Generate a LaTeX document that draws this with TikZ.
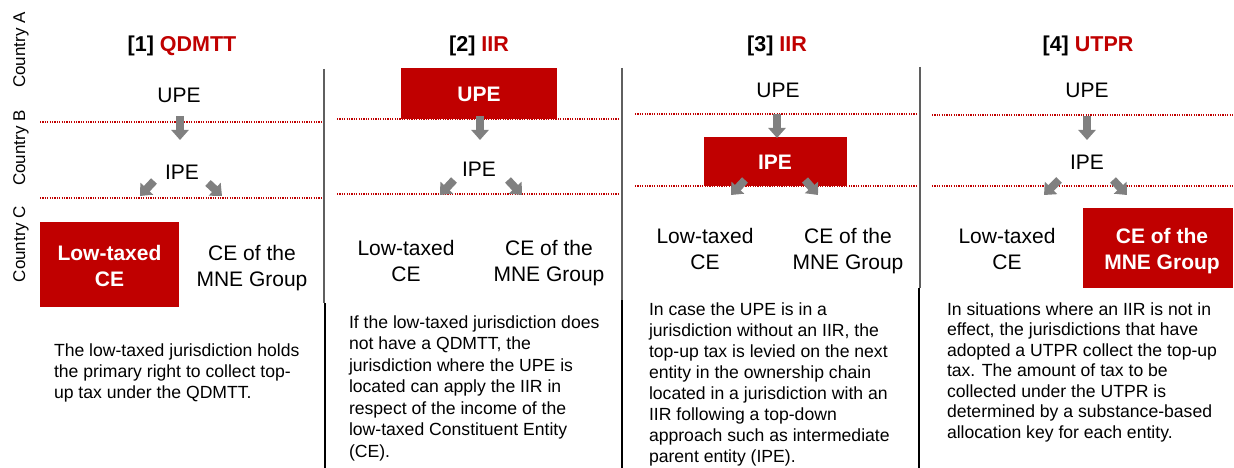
\documentclass[tikz,border=0pt]{standalone}
\usepackage{fontspec}
\setmainfont{Liberation Sans}
\usetikzlibrary{arrows.meta}
\definecolor{ipred}{HTML}{C00000}
\definecolor{agray}{HTML}{808080}
\definecolor{sgray}{HTML}{5F5F5F}
\newcommand\lblstrut{\rule[-10pt]{0pt}{26pt}}
\newcommand\txtstrut{\rule{0pt}{15pt}}
\begin{document}
\begin{tikzpicture}[x=1pt,y=-1pt,
  every node/.style={inner sep=0pt, outer sep=0pt},
  title/.style={anchor=base, font=\fontsize{21.5}{26}\selectfont\bfseries},
  country/.style={anchor=base, rotate=90, font=\fontsize{17}{20}\selectfont},
  ent/.style={anchor=base, font=\fontsize{21}{26}\selectfont},
  entw/.style={anchor=base, font=\fontsize{21}{26}\selectfont\bfseries, text=white},
  enttwo/.style={align=center, font=\fontsize{21}{26}\selectfont},
  enttwow/.style={align=center, font=\fontsize{21}{26}\selectfont\bfseries, text=white},
  redbox/.style={fill=ipred, draw=none},
  body/.style={anchor=north west, align=left},
  barrow/.style={draw=agray, line width=8pt, -{Triangle[width=17pt,length=10pt]}},
  sepg/.style={draw=sgray, line width=2.5pt},
  sepb/.style={draw=black, line width=1.5pt},
  dotline/.style={draw=ipred, line width=1.2pt, dash pattern=on 1.2pt off 1.2pt},
]
\useasboundingbox (0,0) rectangle (1234,468);

% country labels
\node[country] (ca) at (25,50) {Country A};
\node[country] (cb) at (25,148) {Country B};
\node[country] (cc) at (25,244) {Country C};

% separators
\draw[sepg] (324,69) -- (324,303);
\draw[sepb] (325,303) -- (325,468);
\draw[sepg] (622,68) -- (622,300);
\draw[sepb] (622,300) -- (622,468);
\draw[sepg] (920,67) -- (920,288);
\draw[sepb] (919,288) -- (919,468);

% dotted country borders
\draw[dotline] (40,122) -- (323,122);
\draw[dotline] (40,198) -- (323,198);
\draw[dotline] (337,119) -- (618,119);
\draw[dotline] (337,194) -- (618,194);
\draw[dotline] (635,114) -- (918,114);
\draw[dotline] (635,186) -- (918,186);
\draw[dotline] (932,115) -- (1234,115);
\draw[dotline] (932,186) -- (1234,186);

% titles
\node[title] (t1) at (182,52) {[1] \textcolor{ipred}{QDMTT}};
\node[title] (t2) at (479,52) {[2] \textcolor{ipred}{IIR}};
\node[title] (t3) at (777,52) {[3] \textcolor{ipred}{IIR}};
\node[title] (t4) at (1088,52) {[4] \textcolor{ipred}{UTPR}};

% red boxes
\node[redbox, minimum width=139pt, minimum height=85pt] (b1) at (109.5,264.5) {};
\node[redbox, minimum width=156pt, minimum height=51pt] (b2) at (479,93.5) {};
\node[redbox, minimum width=143pt, minimum height=49pt] (b3) at (775.5,161.5) {};
\node[redbox, minimum width=150pt, minimum height=80pt] (b4) at (1158,248) {};

% panel 1
\node[ent] (upe1) at (179,103) {UPE};
\node[ent] (ipe1) at (182,179) {IPE};
\node[enttwow] (lt1) at (109.5,270) {\lblstrut Low-taxed\\\lblstrut CE};
\node[enttwo] (ce1) at (252,270) {\lblstrut CE of the\\\lblstrut MNE Group};

% panel 2
\node[entw] (upe2) at (479,102) {UPE};
\node[ent] (ipe2) at (479,176) {IPE};
\node[enttwo] (lt2) at (406,265) {\lblstrut Low-taxed\\\lblstrut CE};
\node[enttwo] (ce2) at (549,265) {\lblstrut CE of the\\\lblstrut MNE Group};

% panel 3
\node[ent] (upe3) at (778,98) {UPE};
\node[entw] (ipe3) at (775,169) {IPE};
\node[enttwo] (lt3) at (705,253) {\lblstrut Low-taxed\\\lblstrut CE};
\node[enttwo] (ce3) at (848,253) {\lblstrut CE of the\\\lblstrut MNE Group};

% panel 4
\node[ent] (upe4) at (1087,98) {UPE};
\node[ent] (ipe4) at (1087,169) {IPE};
\node[enttwo] (lt4) at (1007,253) {\lblstrut Low-taxed\\\lblstrut CE};
\node[enttwow] (ce4) at (1162,253) {\lblstrut CE of the\\\lblstrut MNE Group};

% arrow end points
\coordinate (d1s) at (180,116);   \coordinate (d1e) at (180,140);
\coordinate (l1s) at (154,181);   \coordinate (l1e) at (140,196);
\coordinate (r1s) at (208,183);   \coordinate (r1e) at (222,196);
\coordinate (d2s) at (480,116);   \coordinate (d2e) at (480,140);
\coordinate (l2s) at (454,180);   \coordinate (l2e) at (440,195);
\coordinate (r2s) at (508,180);   \coordinate (r2e) at (522,195);
\coordinate (d3s) at (777,114);   \coordinate (d3e) at (777,138);
\coordinate (l3s) at (745,180);   \coordinate (l3e) at (731,195);
\coordinate (r3s) at (805,180);   \coordinate (r3e) at (818,195);
\coordinate (d4s) at (1087,116);  \coordinate (d4e) at (1087,140);
\coordinate (l4s) at (1059,180);  \coordinate (l4e) at (1044,195);
\coordinate (r4s) at (1113,180);  \coordinate (r4e) at (1127,195);

\foreach \p in {1,2,3,4}{
  \draw[barrow] (d\p s) -- (d\p e);
  \draw[barrow] (l\p s) -- (l\p e);
  \draw[barrow] (r\p s) -- (r\p e);
}

% descriptions
\node[body, font=\fontsize{17.6}{21}\selectfont] (x1) at (54,341)
  {\txtstrut The low-taxed jurisdiction holds\\
   the primary right to collect top-\\
   up tax under the QDMTT.};
\node[body, font=\fontsize{17.6}{21.5}\selectfont] (x2) at (349,313)
  {\txtstrut If the low-taxed jurisdiction does\\
   not have a QDMTT, the\\
   jurisdiction where the UPE is\\
   located can apply the IIR in\\
   respect of the income of the\\
   low-taxed Constituent Entity\\
   (CE).};
\node[body, font=\fontsize{17.6}{21}\selectfont] (x3) at (649,300)
  {\txtstrut In case the UPE is in a\\
   jurisdiction without an IIR, the\\
   top-up tax is levied on the next\\
   entity in the ownership chain\\
   located in a jurisdiction with an\\
   IIR following a top-down\\
   approach such as intermediate\\
   parent entity (IPE).};
\node[body, font=\fontsize{17.6}{20.5}\selectfont] (x4) at (947,300)
  {\txtstrut In situations where an IIR is not in\\
   effect, the jurisdictions that have\\
   adopted a UTPR collect the top-up\\
   tax. The amount of tax to be\\
   collected under the UTPR is\\
   determined by a substance-based\\
   allocation key for each entity.};
\end{tikzpicture}
\end{document}
